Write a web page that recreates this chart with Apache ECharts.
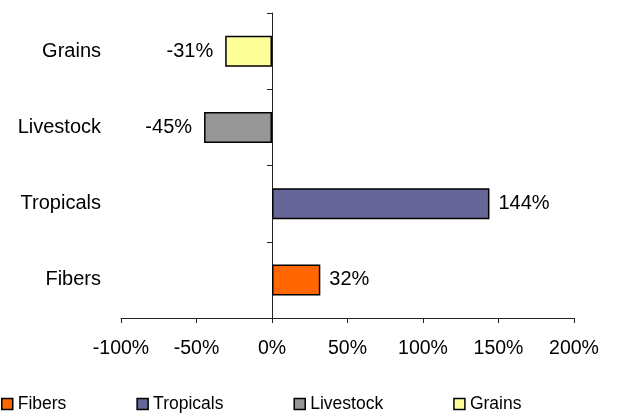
<!DOCTYPE html>
<html>
<head>
<meta charset="utf-8">
<script src="https://cdn.jsdelivr.net/npm/echarts@6/dist/echarts.min.js"></script>
<style>
  html, body { margin: 0; padding: 0; background: #fff; }
  #chart { width: 623px; height: 420px; }
</style>
</head>
<body>
<div id="chart"></div>
<script>
// categories from bottom to top
const categories = ['Fibers', 'Tropicals', 'Livestock', 'Grains'];
const changes = [32, 144, -45, -31];
const colors = ['#FF6600', '#666699', '#969696', '#FFFF99'];
const xTicks = { min: -100, max: 200, step: 50 };

const myChart = echarts.init(document.getElementById('chart'));

const series = categories.map((name, i) => ({
  name: name,
  type: 'bar',
  stack: 'all',
  barWidth: 31,
  data: categories.map((c, j) => (j === i ? changes[i] : '-')),
  itemStyle: { color: colors[i], borderColor: '#000', borderWidth: 1.5 },
  label: {
    show: true,
    position: changes[i] < 0 ? 'left' : 'right',
    distance: changes[i] < 0 ? 12 : 9,
    formatter: '{c}%',
    color: '#000',
    fontFamily: 'Liberation Sans',
    fontSize: 20
  }
}));

const option = {
  animation: false,
  grid: { left: 121, right: 49, top: 13, bottom: 102, outerBoundsMode: 'none', containLabel: false },
  legend: {
    bottom: 2,
    left: -4,
    itemWidth: 11,
    itemHeight: 11,
    itemGap: 70,
    icon: 'rect',
    itemStyle: { borderColor: '#000', borderWidth: 1.5 },
    textStyle: { fontFamily: 'Liberation Sans', fontSize: 17.5, color: '#000' },
    data: categories
  },
  xAxis: {
    type: 'value',
    min: xTicks.min,
    max: xTicks.max,
    interval: xTicks.step,
    splitLine: { show: false },
    axisLine: { show: true, lineStyle: { color: '#222', width: 1 } },
    axisTick: { show: true, length: 5, lineStyle: { color: '#222' } },
    axisLabel: {
      formatter: '{value}%',
      margin: 21,
      color: '#000',
      fontFamily: 'Liberation Sans',
      fontSize: 19.5
    }
  },
  yAxis: [
    {
      // labels only, at the left edge of the plot
      type: 'category',
      data: categories,
      position: 'left',
      axisLine: { show: false, onZero: false },
      axisTick: { show: false },
      axisLabel: {
        margin: 20,
        color: '#000',
        fontFamily: 'Liberation Sans',
        fontSize: 20
      }
    },
    {
      // the line through 0%
      type: 'category',
      data: categories,
      position: 'left',
      axisLine: { show: true, onZero: true, lineStyle: { color: '#222', width: 1 } },
      axisTick: { show: true, length: 5, lineStyle: { color: '#222' } },
      axisLabel: { show: false }
    }
  ],
  series: series
};

myChart.setOption(option);
</script>
</body>
</html>
